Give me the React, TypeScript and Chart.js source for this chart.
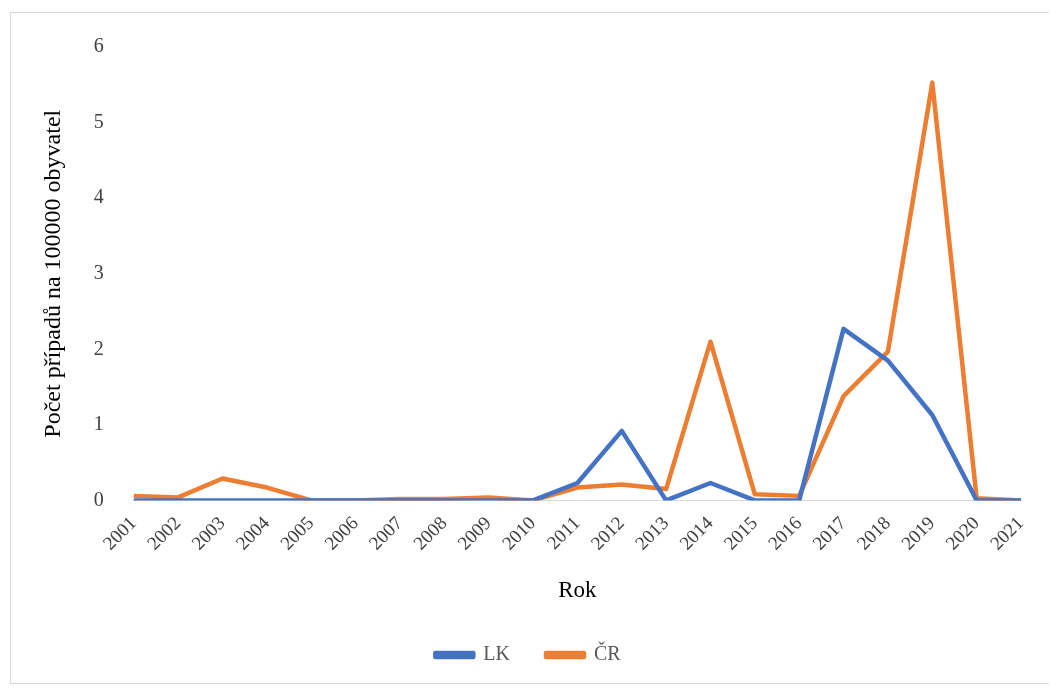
import React, { useEffect, useRef } from "react";
import { Chart, registerables } from "chart.js";
Chart.register(...registerables);

const years = ["2001","2002","2003","2004","2005","2006","2007","2008","2009","2010","2011","2012","2013","2014","2015","2016","2017","2018","2019","2020","2021"];
const lk = [0,0,0,0,0,0,0,0,0,0,0.23,0.92,0,0.23,0,0,2.27,1.85,1.13,0,0];
const cr = [0.06,0.04,0.29,0.17,0,0,0.02,0.02,0.04,0,0.17,0.21,0.15,2.1,0.08,0.06,1.38,1.97,5.53,0.03,0];

export default function App() {
  const ref = useRef<HTMLCanvasElement>(null);
  useEffect(() => {
    const font = { family: "Liberation Serif", size: 20 };
    const c = new Chart(ref.current!, {
      type: "line",
      data: {
        labels: years,
        datasets: [
          { label: "LK", data: lk, borderColor: "#4472C4", backgroundColor: "#4472C4", borderWidth: 4.5, pointRadius: 0, tension: 0, borderJoinStyle: "round" },
          { label: "ČR", data: cr, borderColor: "#ED7D31", backgroundColor: "#ED7D31", borderWidth: 4.5, pointRadius: 0, tension: 0, borderJoinStyle: "round" },
        ],
      },
      options: {
        animation: false, responsive: false,
        layout: { padding: { left: 24, right: 28, top: 14, bottom: 8 } },
        plugins: {
          legend: { position: "bottom", labels: { font, color: "#595959", boxWidth: 38, boxHeight: 4, padding: 36 } },
          tooltip: { enabled: false },
        },
        scales: {
          x: {
            grid: { display: false },
            border: { color: "#d9d9d9" },
            ticks: { font: { ...font, size: 19 }, color: "#404040", maxRotation: 45, minRotation: 45, padding: 4 },
            title: { display: true, text: "Rok", font: { ...font, size: 23 }, color: "#000", padding: { top: 18 } },
          },
          y: {
            min: 0, max: 6,
            grid: { display: false },
            border: { display: false },
            ticks: { stepSize: 1, font, color: "#404040", padding: 22 },
            title: { display: true, text: "Počet případů na 100000 obyvatel", font: { ...font, size: 24 }, color: "#000" },
          },
        },
      },
    });
    return () => c.destroy();
  }, []);
  return (
    <div style={{ width: 1040, height: 672, border: "1px solid #d9d9d9", boxSizing: "border-box", margin: "4px 0 0 2px" }}>
      <canvas ref={ref} width={1038} height={670} />
    </div>
  );
}
